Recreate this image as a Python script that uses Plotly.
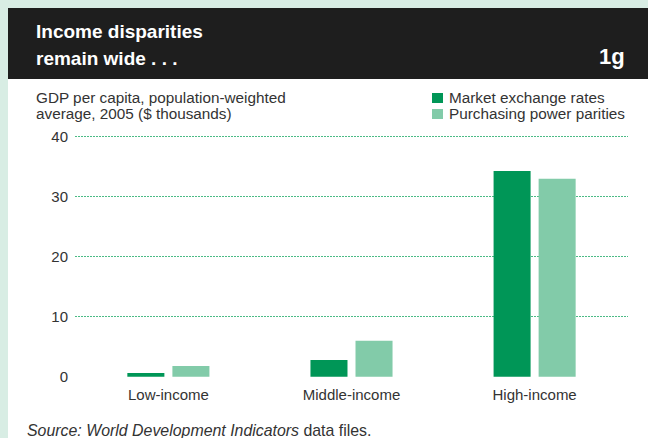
import plotly.graph_objects as go

# GDP per capita, population-weighted average, 2005 ($ thousands)
categories = ["Low-income", "Middle-income", "High-income"]
market_exchange = [0.6, 2.8, 34.3]
ppp = [1.8, 6.0, 33.0]
y_ticks = [0, 10, 20, 30, 40]

W, H = 648, 438
ML, MR, MT, MB = 75, 20, 135, 61
PW, PH = W - ML - MR, H - MT - MB
MINT = "#d8ede4"
DARK_GREEN = "#009657"
LIGHT_GREEN = "#82cba9"
GRID_GREEN = "#4cbb86"
TEXT = "#333333"
FONT = "Liberation Sans, Arial, sans-serif"


def px(x):
    """Page pixel column -> paper x (paper spans the plot area)."""
    return (x - ML) / PW


def py(y):
    """Page pixel row -> paper y."""
    return (H - MB - y) / PH


fig = go.Figure()
fig.add_trace(go.Bar(x=categories, y=market_exchange, name="Market exchange rates",
                     marker=dict(color=DARK_GREEN, line=dict(width=0))))
fig.add_trace(go.Bar(x=categories, y=ppp, name="Purchasing power parities",
                     marker=dict(color=LIGHT_GREEN, line=dict(width=0))))

shapes = [
    # white panel and black header band
    dict(type="rect", xref="paper", yref="paper", x0=px(8), x1=px(W), y0=py(H), y1=py(79),
         fillcolor="white", line=dict(width=0), layer="below"),
    dict(type="rect", xref="paper", yref="paper", x0=px(8), x1=px(W), y0=py(79), y1=py(8),
         fillcolor="#1e1e1e", line=dict(width=0), layer="below"),
    # legend swatches
    dict(type="rect", xref="paper", yref="paper", x0=px(432), x1=px(443), y0=py(103), y1=py(93),
         fillcolor=DARK_GREEN, line=dict(width=0)),
    dict(type="rect", xref="paper", yref="paper", x0=px(432), x1=px(443), y0=py(119), y1=py(109),
         fillcolor=LIGHT_GREEN, line=dict(width=0)),
]

annotations = [
    dict(text="<b>Income disparities</b>", x=px(34), y=py(31), xanchor="left", yanchor="middle",
         font=dict(size=19, color="white", family=FONT)),
    dict(text="<b>remain wide . . .</b>", x=px(34), y=py(58), xanchor="left", yanchor="middle",
         font=dict(size=19, color="white", family=FONT)),
    dict(text="<b>1g</b>", x=px(627), y=py(57), xanchor="right", yanchor="middle",
         font=dict(size=22, color="white", family=FONT)),
    dict(text="GDP per capita, population-weighted", x=px(34), y=py(98), xanchor="left",
         yanchor="middle", font=dict(size=15.3, color=TEXT, family=FONT)),
    dict(text="average, 2005 ($ thousands)", x=px(34), y=py(114), xanchor="left",
         yanchor="middle", font=dict(size=15.3, color=TEXT, family=FONT)),
    dict(text="Market exchange rates", x=px(447), y=py(98), xanchor="left", yanchor="middle",
         font=dict(size=15.3, color=TEXT, family=FONT)),
    dict(text="Purchasing power parities", x=px(447), y=py(114), xanchor="left", yanchor="middle",
         font=dict(size=15.3, color=TEXT, family=FONT)),
    dict(text="<i>Source: World Development Indicators</i> data files.", x=px(25), y=py(430),
         xanchor="left", yanchor="middle", font=dict(size=15.9, color=TEXT, family=FONT)),
]
for a in annotations:
    a.update(xref="paper", yref="paper", showarrow=False)

fig.update_layout(
    width=W, height=H,
    margin=dict(l=ML, r=MR, t=MT, b=MB, pad=0),
    paper_bgcolor=MINT,
    plot_bgcolor="rgba(0,0,0,0)",
    barmode="group",
    bargap=0.508,
    bargroupgap=0.178,
    showlegend=False,
    shapes=shapes,
    annotations=annotations,
    font=dict(family=FONT, color=TEXT),
)
fig.update_xaxes(range=[-0.51, 2.51], showgrid=False, zeroline=False, showline=False,
                 ticks="", tickfont=dict(size=15, color=TEXT, family=FONT),
                 ticklabelstandoff=7)
fig.update_yaxes(range=[-0.05, 40.3], tickvals=y_ticks, showgrid=True,
                 gridcolor=GRID_GREEN, griddash="2px,1px", gridwidth=1,
                 zeroline=False, showline=False, ticks="",
                 tickfont=dict(size=15, color=TEXT, family=FONT), ticklabelstandoff=6)

fig.write_html("out.html")
